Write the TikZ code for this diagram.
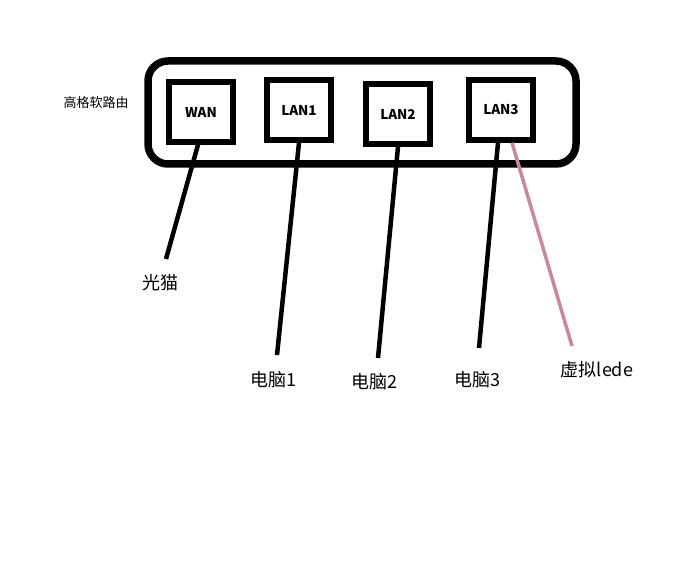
\documentclass[tikz,border=0pt]{standalone}
\usepackage{fontspec}
\setmainfont{Noto Sans CJK SC}
\begin{document}
\begin{tikzpicture}[x=1pt,y=-1pt,
  port/.style={draw,line width=5.5pt,minimum width=64pt,minimum height=60pt,font=\bfseries\fontsize{13.5}{15}\selectfont},
  wire/.style={line width=4.5pt},
  lbl/.style={font=\fontsize{18}{20}\selectfont}]
\useasboundingbox (0,0) rectangle (696,564);
\draw[line width=7.5pt,rounded corners=20pt] (148,61) rectangle (576,164);
\node[port] (wan) at (201,112) {WAN};
\node[port] (l1) at (299,110) {LAN1};
\node[port] (l2) at (398,114) {LAN2};
\node[port] (l3) at (501,110) {LAN3};
\node[font=\fontsize{13}{15}\selectfont] (r) at (96,103) {高格软路由};
\coordinate (a0) at (166,259); \coordinate (a1) at (277,355);
\coordinate (a2) at (378,358); \coordinate (a3) at (479,348);
\coordinate (a4) at (572,346);
\draw[wire] (wan.south) ++(-3,0) coordinate (s0) (s0) -- (a0);
\draw[wire] (l1.south) -- (a1);
\draw[wire] (l2.south) -- (a2);
\draw[wire] (l3.south) ++(-3,0) coordinate (s3) (s3) -- (a3);
\draw[line width=3.5pt,color={rgb,255:red,200;green,138;blue,154}] (l3.south) ++(11,0) coordinate (s4) (s4) -- (a4);
\node[lbl] (t0) at (160,283) {光猫};
\node[lbl] (t1) at (273,380) {电脑1};
\node[lbl] (t2) at (374,382) {电脑2};
\node[lbl] (t3) at (477,380) {电脑3};
\node[lbl] (t4) at (597,370) {虚拟lede};
\end{tikzpicture}
\end{document}
